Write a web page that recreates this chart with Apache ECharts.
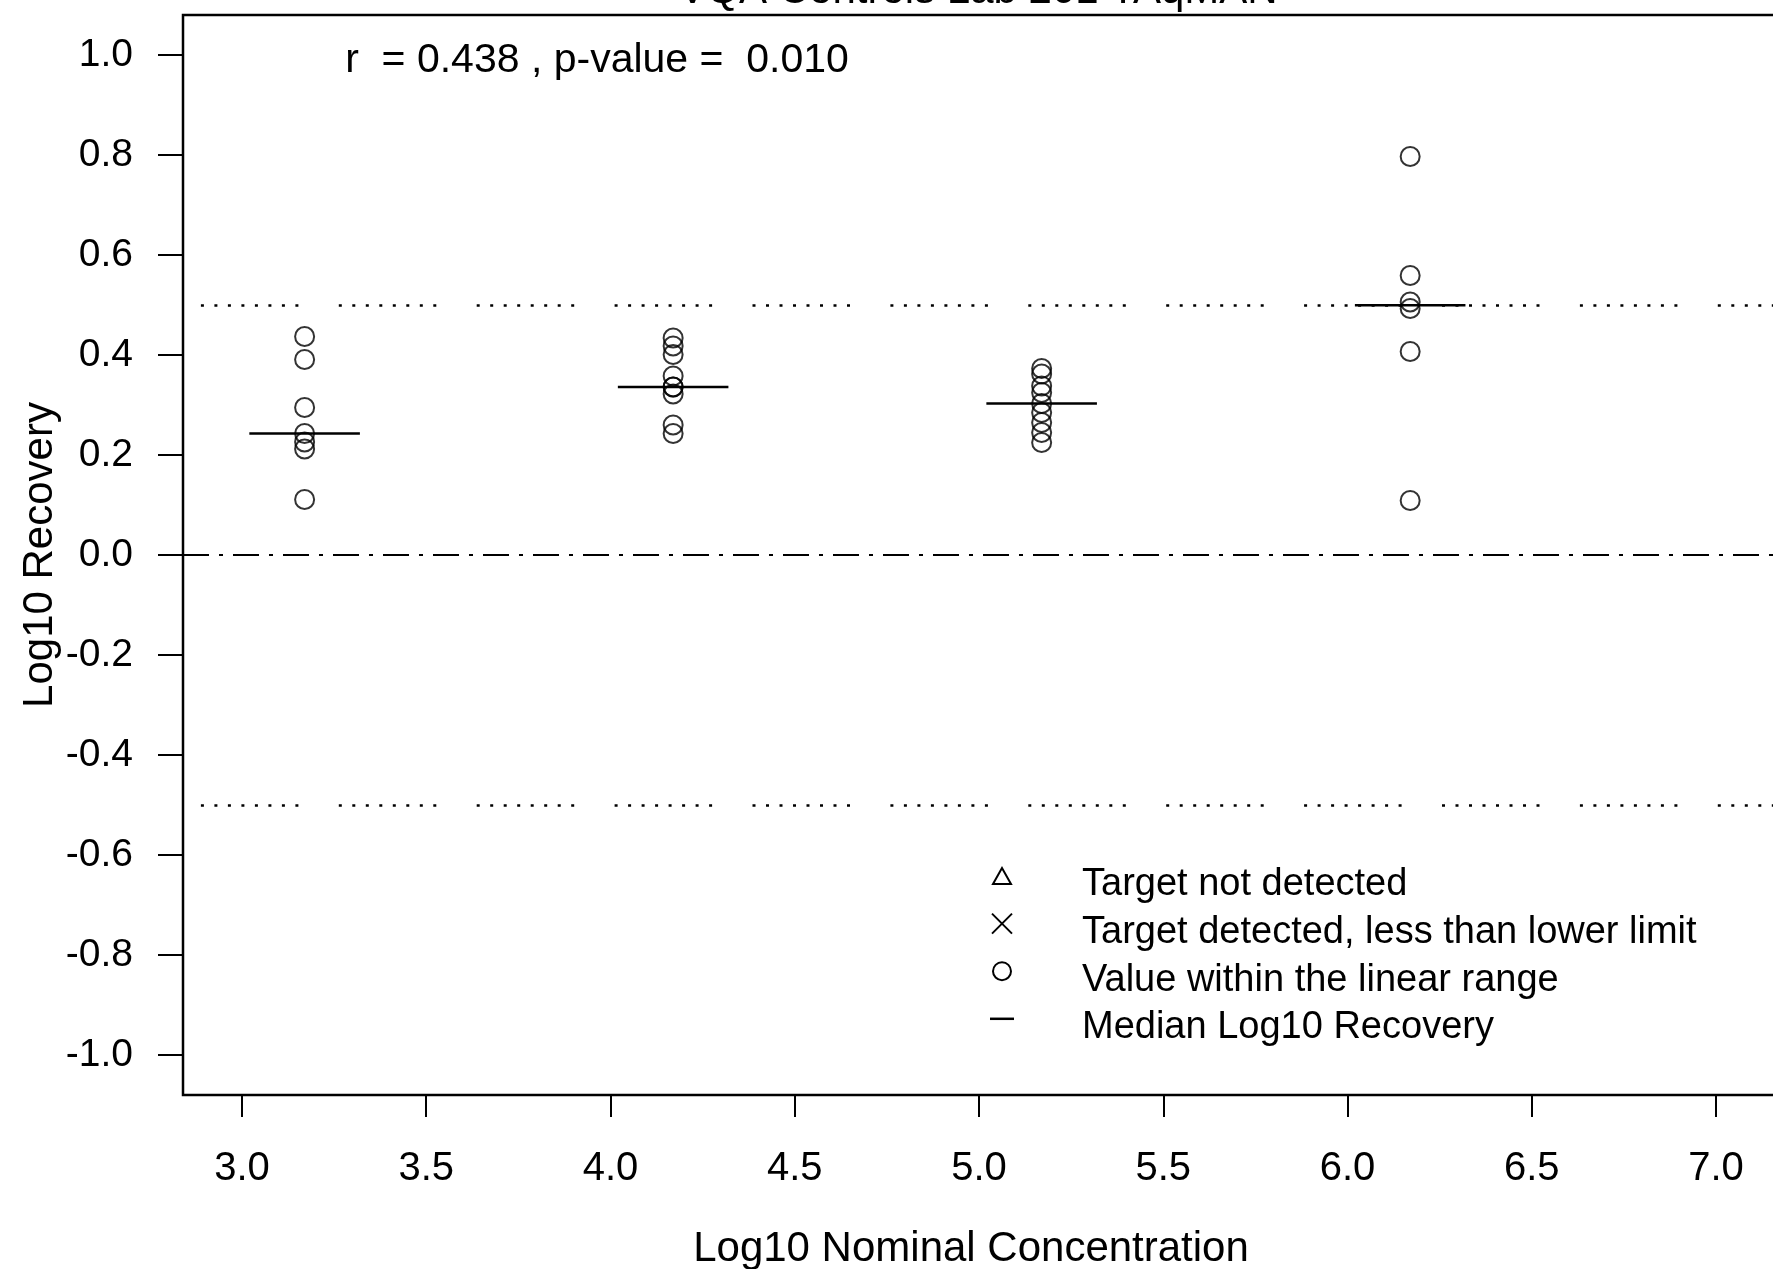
<!DOCTYPE html>
<html>
<head>
<meta charset="utf-8">
<title>VQA Controls Lab 201 TAqMAN</title>
<script src="https://cdn.jsdelivr.net/npm/echarts@6.0.0/dist/echarts.min.js"></script>
<style>
    html, body { margin: 0; padding: 0; background: #fff; }
    #chart { width: 1773px; height: 1269px; }
</style>
</head>
<body>
<div id="chart"></div>
<script>
// log10 nominal concentration of each control level
var groupX = [3.17, 4.17, 5.17, 6.17];
// log10 recovery per level
var group1 = [0.437, 0.391, 0.295, 0.243, 0.226, 0.212, 0.111];
var group2 = [0.434, 0.418, 0.401, 0.358, 0.336, 0.336, 0.322, 0.260, 0.243];
var group3 = [0.373, 0.362, 0.338, 0.325, 0.303, 0.285, 0.265, 0.245, 0.225];
var group4 = [0.797, 0.559, 0.506, 0.493, 0.407, 0.109];
var xTicks = [3.0, 3.5, 4.0, 4.5, 5.0, 5.5, 6.0, 6.5, 7.0];
var yTicks = [-1.0, -0.8, -0.6, -0.4, -0.2, 0.0, 0.2, 0.4, 0.6, 0.8, 1.0];
var refLevels = [0.5, 0, -0.5];
var legendLabels = [
    'Target not detected',
    'Target detected, less than lower limit',
    'Value within the linear range',
    'Median Log10 Recovery'
];
var statText = 'r  = 0.438 , p-value =  0.010';
var titleText = 'VQA Controls Lab 201 TAqMAN';

var FONT = '"Liberation Sans", Arial, sans-serif';
var medianHalfWidth = 0.15;

function median(arr) {
    var s = arr.slice().sort(function (a, b) { return a - b; });
    var n = s.length;
    return n % 2 ? s[(n - 1) / 2] : (s[n / 2 - 1] + s[n / 2]) / 2;
}

var groups = [group1, group2, group3, group4];
var points = [];
var medians = [];
groups.forEach(function (g, i) {
    g.forEach(function (v) { points.push([groupX[i], v]); });
    medians.push([groupX[i], median(g)]);
});

// R style dotted line (dots come in runs with a gap)
var dotDash = [];
for (var k = 0; k < 7; k++) { dotDash.push(3, 10.5); }
dotDash.push(3, 40.4);
var refStyles = [
    { type: dotDash, dashOffset: 120, width: 2.5, color: '#000' },
    { type: [26, 10, 4, 10], width: 2, color: '#000' },
    { type: dotDash, dashOffset: 120, width: 2.5, color: '#000' }
];

// legend drawn by hand (symbols that have no data here)
var legX = 1002, legTextX = 1082, legTop = 883, legGap = 47.6;
var legend = [];
legendLabels.forEach(function (t, i) {
    legend.push({
        type: 'text', x: legTextX, y: legTop + 2 + i * legGap,
        style: { text: t, font: '38px ' + FONT, fill: '#000', textAlign: 'left', textVerticalAlign: 'middle' }
    });
});
var sy = function (i) { return legTop + i * legGap - 7; };
legend.push(
    { type: 'polygon', shape: { points: [[legX, sy(0) - 8], [legX - 9, sy(0) + 8], [legX + 9, sy(0) + 8]] },
      style: { fill: 'none', stroke: '#000', lineWidth: 2 } },
    { type: 'line', shape: { x1: legX - 10, y1: sy(1) - 10, x2: legX + 10, y2: sy(1) + 10 }, style: { stroke: '#000', lineWidth: 2 } },
    { type: 'line', shape: { x1: legX + 10, y1: sy(1) - 10, x2: legX - 10, y2: sy(1) + 10 }, style: { stroke: '#000', lineWidth: 2 } },
    { type: 'circle', shape: { cx: legX, cy: sy(2), r: 9 }, style: { fill: 'none', stroke: '#000', lineWidth: 2 } },
    { type: 'line', shape: { x1: legX - 12, y1: sy(3), x2: legX + 12, y2: sy(3) }, style: { stroke: '#000', lineWidth: 2.5 } }
);

var myChart = echarts.init(document.getElementById('chart'), null, { renderer: 'canvas' });

var option = {
    backgroundColor: '#fff',
    animation: false,
    grid: {
        left: 183, right: -2, top: 15, bottom: 174,
        outerBoundsMode: 'none',
        show: true, borderColor: '#000', borderWidth: 2.5, backgroundColor: 'transparent'
    },
    xAxis: {
        type: 'value', min: 2.84, max: 7.16,
        name: 'Log10 Nominal Concentration',
        nameLocation: 'middle', nameGap: 133,
        nameTextStyle: { fontSize: 42, fontFamily: FONT, color: '#000', padding: [0, 16, 0, 0] },
        axisLine: { show: false, onZero: false },
        axisTick: { show: true, length: 22, customValues: xTicks, lineStyle: { color: '#000', width: 2 } },
        axisLabel: {
            customValues: xTicks, margin: 54, fontSize: 40, fontFamily: FONT, color: '#000',
            formatter: function (v) { return v.toFixed(1); }
        },
        splitLine: { show: false }
    },
    yAxis: {
        type: 'value', min: -1.08, max: 1.08,
        name: 'Log10 Recovery',
        nameLocation: 'middle', nameGap: 122, nameRotate: 90,
        nameMoveOverlap: false,
        nameTextStyle: { fontSize: 42, fontFamily: FONT, color: '#000' },
        axisLine: { show: false, onZero: false },
        axisTick: { show: true, length: 25, customValues: yTicks, lineStyle: { color: '#000', width: 2 } },
        axisLabel: {
            customValues: yTicks, margin: 50, fontSize: 39, fontFamily: FONT, color: '#000',
            formatter: function (v) { return v.toFixed(1); }
        },
        splitLine: { show: false }
    },
    graphic: [
        {
            type: 'text', x: 978, y: 12,
            style: { text: titleText, font: '42px ' + FONT, fill: '#000', textAlign: 'center', textVerticalAlign: 'bottom' }
        },
        {
            type: 'text', x: 597, y: 61,
            style: { text: statText, font: '41px ' + FONT, fill: '#000', textAlign: 'center', textVerticalAlign: 'middle' }
        }
    ].concat(legend),
    series: [
        {
            name: 'Value within the linear range',
            type: 'scatter',
            data: points,
            symbol: 'circle',
            symbolSize: 19,
            itemStyle: { color: 'transparent', borderColor: '#000', borderWidth: 2 },
            markLine: {
                silent: true,
                symbol: ['none', 'none'],
                label: { show: false },
                data: refLevels.map(function (v, i) {
                    return { yAxis: v, lineStyle: refStyles[i] };
                })
            }
        },
        {
            name: 'Median Log10 Recovery',
            type: 'custom',
            data: medians,
            renderItem: function (params, api) {
                var x = api.value(0), m = api.value(1);
                var p1 = api.coord([x - medianHalfWidth, m]);
                var p2 = api.coord([x + medianHalfWidth, m]);
                return {
                    type: 'line',
                    shape: { x1: p1[0], y1: p1[1], x2: p2[0], y2: p2[1] },
                    style: { stroke: '#000', lineWidth: 2.5 }
                };
            }
        }
    ]
};

myChart.setOption(option);
</script>
</body>
</html>
